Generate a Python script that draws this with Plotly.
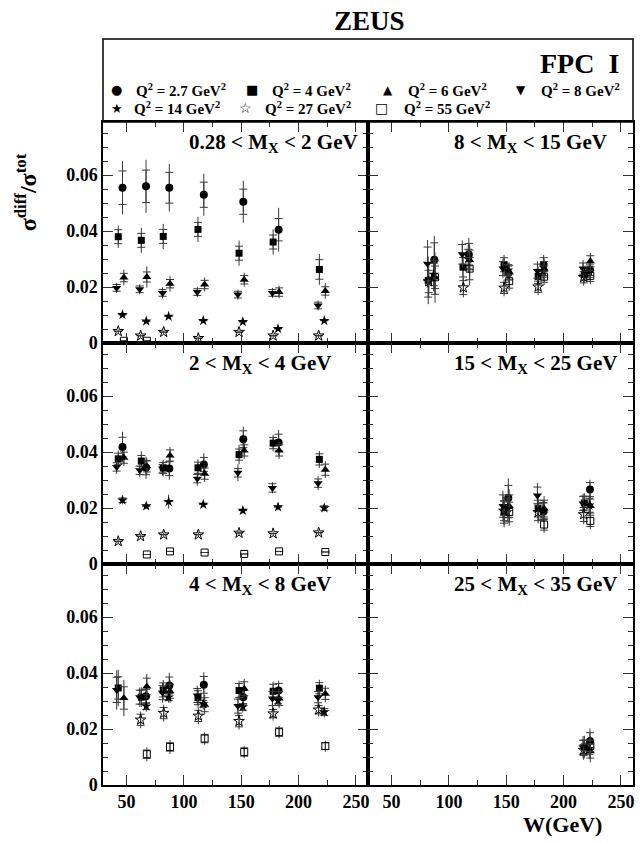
import plotly.graph_objects as go
from plotly.subplots import make_subplots

# ---------------- data ----------------
Q2_LABELS = ["2.7", "4", "6", "8", "14", "27", "55"]
SYMBOLS = ["circle", "square", "triangle-up", "triangle-down", "star", "star-open", "square-open"]
LEGEND_GLYPHS = ["●", "■", "▲", "▼", "★", "☆", "□"]
SIZES = [8, 7, 8, 8, 8, 8, 7]

# W positions (GeV) of each Q2 series (slightly staggered as in the original)
W_POS = [
    [46.5, 67.0, 87.3, 117.4, 151.8, 182.6, 223.0],   # 2.7
    [42.8, 62.9, 82.0, 112.3, 148.1, 177.8, 218.1],   # 4
    [47.7, 67.7, 87.9, 118.1, 152.6, 183.0, 223.3],   # 6
    [41.4, 61.5, 81.4, 111.7, 147.1, 177.2, 217.0],   # 8
    [46.5, 67.2, 86.7, 116.9, 151.4, 182.1, 222.4],   # 14
    [42.8, 62.3, 82.4, 112.6, 148.1, 177.8, 217.5],   # 27
    [47.7, 67.7, 87.9, 118.1, 152.6, 183.0, 223.3],   # 55
]

N = None
PANEL_TITLES = ["0.28 < M<sub>X</sub> < 2 GeV", "8 < M<sub>X</sub> < 15 GeV",
                "2 < M<sub>X</sub> < 4 GeV", "15 < M<sub>X</sub> < 25 GeV",
                "4 < M<sub>X</sub> < 8 GeV", "25 < M<sub>X</sub> < 35 GeV"]

# panel 1: 0.28 < MX < 2
Y_P1 = [
    [0.0555, 0.0560, 0.0555, 0.0530, 0.0505, 0.0405, N],
    [0.0380, 0.0367, 0.0381, 0.0406, 0.0321, 0.0361, 0.0263],
    [0.0234, 0.0236, 0.0212, 0.0209, 0.0226, 0.0182, 0.0186],
    [0.0197, 0.0192, 0.0179, 0.0182, 0.0173, 0.0179, 0.0134],
    [0.0101, 0.0078, 0.0095, 0.0080, 0.0076, 0.0051, 0.0080],
    [0.0042, 0.0026, 0.0039, 0.0017, 0.0039, 0.0026, 0.0026],
    [0.0008, 0.0008, N, N, N, N, N],
]
ET_P1 = [
    [0.0095, 0.0095, 0.0085, 0.0075, 0.0075, 0.0078, N],
    [0.0040, 0.0045, 0.0045, 0.0045, 0.0045, 0.0045, 0.0055],
    [0.0028, 0.0038, 0.0028, 0.0025, 0.0025, 0.0022, 0.0028],
    [0.0018, 0.0018, 0.0020, 0.0018, 0.0018, 0.0018, 0.0018],
    [0.0007, 0.0007, 0.0007, 0.0007, 0.0007, 0.0007, 0.0007],
    [0.0006, 0.0006, 0.0006, 0.0006, 0.0006, 0.0006, 0.0006],
    [0, 0, N, N, N, N, N],
]
ES_P1 = [
    [0.0060, 0.0058, 0.0055, 0.0045, 0.0045, 0.0040, N],
    [0.0025, 0.0025, 0.0025, 0.0025, 0.0025, 0.0025, 0.0035],
    [0.0015, 0.0018, 0.0015, 0.0015, 0.0015, 0.0015, 0.0015],
    [0.0012, 0.0012, 0.0012, 0.0012, 0.0012, 0.0012, 0.0012],
    [0, 0, 0, 0, 0, 0, 0],
    [0, 0, 0, 0, 0, 0, 0],
    [0, 0, N, N, N, N, N],
]

# panel 2: 8 < MX < 15
Y_P2 = [
    [N, N, 0.0298, 0.0316, 0.0250, 0.0280, 0.0262],
    [N, N, 0.0224, 0.0271, 0.0280, 0.0238, 0.0245],
    [N, N, 0.0234, 0.0297, 0.0253, 0.0266, 0.0292],
    [N, N, 0.0283, 0.0317, 0.0266, 0.0257, 0.0266],
    [N, N, 0.0245, 0.0300, 0.0260, 0.0255, 0.0255],
    [N, N, 0.0220, 0.0198, 0.0197, 0.0201, 0.0235],
    [N, N, 0.0235, 0.0266, 0.0221, 0.0237, 0.0240],
]
ET_P2 = [
    [N, N, 0.0085, 0.0060, 0.0035, 0.0035, 0.0030],
    [N, N, 0.0085, 0.0050, 0.0035, 0.0035, 0.0030],
    [N, N, 0.0090, 0.0055, 0.0035, 0.0035, 0.0030],
    [N, N, 0.0085, 0.0050, 0.0035, 0.0035, 0.0030],
    [N, N, 0.0060, 0.0050, 0.0030, 0.0030, 0.0030],
    [N, N, 0.0060, 0.0035, 0.0030, 0.0030, 0.0030],
    [N, N, 0.0060, 0.0060, 0.0035, 0.0030, 0.0030],
]
ES_P2 = [
    [N, N, 0.0060, 0.0040, 0.0025, 0.0025, 0.0020],
    [N, N, 0.0060, 0.0035, 0.0025, 0.0025, 0.0020],
    [N, N, 0.0060, 0.0035, 0.0025, 0.0025, 0.0020],
    [N, N, 0.0060, 0.0035, 0.0025, 0.0025, 0.0020],
    [N, N, 0.0040, 0.0035, 0.0020, 0.0020, 0.0020],
    [N, N, 0.0040, 0.0025, 0.0020, 0.0020, 0.0020],
    [N, N, 0.0040, 0.0040, 0.0025, 0.0020, 0.0020],
]

# panel 3: 2 < MX < 4
Y_P3 = [
    [0.0418, 0.0344, 0.0341, 0.0356, 0.0446, 0.0434, N],
    [0.0376, 0.0368, 0.0343, 0.0344, 0.0391, 0.0432, 0.0374],
    [0.0380, 0.0349, 0.0388, 0.0323, 0.0406, 0.0406, 0.0337],
    [0.0347, 0.0335, 0.0341, 0.0305, 0.0326, 0.0272, 0.0289],
    [0.0228, 0.0207, 0.0223, 0.0213, 0.0191, 0.0204, 0.0200],
    [0.0081, 0.0099, 0.0105, 0.0105, 0.0111, 0.0109, 0.0112],
    [N, 0.0034, 0.0045, 0.0041, 0.0036, 0.0045, 0.0043],
]
ET_P3 = [
    [0.0055, 0.0040, 0.0040, 0.0040, 0.0045, 0.0045, N],
    [0.0030, 0.0035, 0.0030, 0.0030, 0.0035, 0.0030, 0.0030],
    [0.0030, 0.0030, 0.0030, 0.0030, 0.0030, 0.0030, 0.0030],
    [0.0025, 0.0025, 0.0025, 0.0025, 0.0030, 0.0020, 0.0025],
    [0.0015, 0.0010, 0.0025, 0.0010, 0.0010, 0.0012, 0.0012],
    [0.0008, 0.0008, 0.0008, 0.0008, 0.0008, 0.0008, 0.0008],
    [N, 0, 0, 0, 0, 0, 0],
]
ES_P3 = [
    [0.0035, 0.0025, 0.0025, 0.0025, 0.0030, 0.0030, N],
    [0.0020, 0.0020, 0.0020, 0.0020, 0.0020, 0.0020, 0.0020],
    [0.0020, 0.0020, 0.0020, 0.0020, 0.0020, 0.0020, 0.0020],
    [0.0015, 0.0015, 0.0015, 0.0015, 0.0015, 0.0015, 0.0015],
    [0.0008, 0, 0, 0, 0, 0, 0.0008],
    [0, 0, 0, 0, 0, 0, 0],
    [N, 0, 0, 0, 0, 0, 0],
]

# panel 4: 15 < MX < 25
Y_P4 = [
    [N, N, N, N, 0.0236, 0.0188, 0.0266],
    [N, N, N, N, 0.0186, 0.0198, 0.0218],
    [N, N, N, N, 0.0207, 0.0198, 0.0207],
    [N, N, N, N, 0.0207, 0.0245, 0.0216],
    [N, N, N, N, 0.0200, 0.0190, 0.0210],
    [N, N, N, N, 0.0190, 0.0185, 0.0177],
    [N, N, N, N, 0.0186, 0.0141, 0.0154],
]
ET_P4 = [
    [N, N, N, N, 0.0070, 0.0040, 0.0035],
    [N, N, N, N, 0.0055, 0.0045, 0.0035],
    [N, N, N, N, 0.0060, 0.0045, 0.0040],
    [N, N, N, N, 0.0055, 0.0045, 0.0035],
    [N, N, N, N, 0.0050, 0.0040, 0.0035],
    [N, N, N, N, 0.0050, 0.0040, 0.0035],
    [N, N, N, N, 0.0050, 0.0030, 0.0030],
]
ES_P4 = [
    [N, N, N, N, 0.0045, 0.0030, 0.0025],
    [N, N, N, N, 0.0040, 0.0030, 0.0025],
    [N, N, N, N, 0.0040, 0.0030, 0.0025],
    [N, N, N, N, 0.0040, 0.0030, 0.0025],
    [N, N, N, N, 0.0035, 0.0030, 0.0025],
    [N, N, N, N, 0.0035, 0.0030, 0.0025],
    [N, N, N, N, 0.0035, 0.0020, 0.0020],
]

# panel 5: 4 < MX < 8
Y_P5 = [
    [N, 0.0317, 0.0356, 0.0358, 0.0314, 0.0338, N],
    [0.0347, 0.0314, 0.0340, 0.0312, 0.0338, 0.0335, 0.0346],
    [0.0311, 0.0352, 0.0335, 0.0287, 0.0344, 0.0309, 0.0326],
    [0.0340, 0.0314, 0.0330, 0.0320, 0.0282, 0.0309, 0.0314],
    [N, 0.0282, 0.0314, 0.0290, 0.0279, 0.0302, 0.0261],
    [N, 0.0233, 0.0257, 0.0247, 0.0228, 0.0255, 0.0269],
    [N, 0.0110, 0.0136, 0.0166, 0.0118, 0.0189, 0.0139],
]
ET_P5 = [
    [N, 0.0040, 0.0045, 0.0045, 0.0035, 0.0035, N],
    [0.0065, 0.0035, 0.0035, 0.0035, 0.0035, 0.0035, 0.0030],
    [0.0065, 0.0045, 0.0040, 0.0035, 0.0035, 0.0035, 0.0030],
    [0.0070, 0.0035, 0.0035, 0.0035, 0.0035, 0.0035, 0.0030],
    [N, 0.0020, 0.0020, 0.0020, 0.0020, 0.0020, 0.0020],
    [N, 0.0030, 0.0030, 0.0030, 0.0030, 0.0025, 0.0025],
    [N, 0.0025, 0.0025, 0.0022, 0.0022, 0.0022, 0.0020],
]
ES_P5 = [
    [N, 0.0025, 0.0030, 0.0030, 0.0025, 0.0025, N],
    [0.0040, 0.0025, 0.0025, 0.0025, 0.0025, 0.0025, 0.0020],
    [0.0040, 0.0030, 0.0025, 0.0025, 0.0025, 0.0025, 0.0020],
    [0.0045, 0.0025, 0.0025, 0.0025, 0.0025, 0.0025, 0.0020],
    [N, 0.0012, 0.0012, 0.0012, 0.0012, 0.0012, 0.0012],
    [N, 0.0020, 0.0020, 0.0020, 0.0020, 0.0015, 0.0015],
    [N, 0.0015, 0.0015, 0.0015, 0.0015, 0.0015, 0.0012],
]

# panel 6: 25 < MX < 35
Y_P6 = [
    [N, N, N, N, N, N, 0.0157],
    [N, N, N, N, N, N, 0.0136],
    [N, N, N, N, N, N, 0.0121],
    [N, N, N, N, N, N, 0.0135],
    [N, N, N, N, N, N, 0.0130],
    [N, N, N, N, N, N, 0.0125],
    [N, N, N, N, N, N, 0.0140],
]
ET_P6 = [
    [N, N, N, N, N, N, 0.0045],
    [N, N, N, N, N, N, 0.0040],
    [N, N, N, N, N, N, 0.0040],
    [N, N, N, N, N, N, 0.0040],
    [N, N, N, N, N, N, 0.0035],
    [N, N, N, N, N, N, 0.0035],
    [N, N, N, N, N, N, 0.0035],
]
ES_P6 = [
    [N, N, N, N, N, N, 0.0030],
    [N, N, N, N, N, N, 0.0025],
    [N, N, N, N, N, N, 0.0025],
    [N, N, N, N, N, N, 0.0025],
    [N, N, N, N, N, N, 0.0020],
    [N, N, N, N, N, N, 0.0020],
    [N, N, N, N, N, N, 0.0020],
]

PANELS = [  # (row, col, Y, total err, stat err)
    (1, 1, Y_P1, ET_P1, ES_P1),
    (1, 2, Y_P2, ET_P2, ES_P2),
    (2, 1, Y_P3, ET_P3, ES_P3),
    (2, 2, Y_P4, ET_P4, ES_P4),
    (3, 1, Y_P5, ET_P5, ES_P5),
    (3, 2, Y_P6, ET_P6, ES_P6),
]

# ---------------- figure ----------------
OFF = 8                      # page body margin of the html page
W_PX, H_PX = 628, 829        # figure fits inside the 644x845 window with the body margin
# plot area in window pixels: x 103..635, y 122..785
ML, MT = 103 - OFF, 122 - OFF
MR = W_PX - (635 - OFF)
MB = H_PX - (785 - OFF)
PW, PH = W_PX - ML - MR, H_PX - MT - MB
SERIF = "Liberation Serif"
ERRC = "#3a3a3a"


def px2x(px):  # window pixel -> paper x
    return (px - OFF - ML) / PW


def px2y(py):  # window pixel -> paper y
    return (H_PX - MB - (py - OFF)) / PH


fig = make_subplots(rows=3, cols=2, horizontal_spacing=0, vertical_spacing=0)

for pi, (r, c, Ys, ETs, ESs) in enumerate(PANELS):
    for si in range(7):
        xs, ys, et, es = [], [], [], []
        for k in range(7):
            if Ys[si][k] is not None:
                xs.append(W_POS[si][k])
                ys.append(Ys[si][k])
                et.append(ETs[si][k] or 0)
                es.append(ESs[si][k] or 0)
        if not xs:
            continue
        # total error: plain vertical line
        fig.add_trace(go.Scatter(
            x=xs, y=ys, mode="markers", showlegend=False, hoverinfo="skip",
            marker=dict(size=1, color="rgba(0,0,0,0)"),
            error_y=dict(type="data", array=et, visible=True, thickness=1, width=0, color=ERRC),
        ), row=r, col=c)
        openm = SYMBOLS[si].endswith("open")
        fig.add_trace(go.Scatter(
            x=xs, y=ys, mode="markers", showlegend=False,
            name="Q2 = %s GeV2" % Q2_LABELS[si],
            marker=dict(symbol=SYMBOLS[si], size=SIZES[si], color="black",
                        line=dict(width=1 if openm else 0, color="black")),
            error_y=dict(type="data", array=es, visible=True, thickness=1, width=4, color=ERRC),
        ), row=r, col=c)

tickfont = dict(family=SERIF, size=18, color="black", weight="bold")
for r in (1, 2, 3):
    for c in (1, 2):
        fig.update_xaxes(
            row=r, col=c, range=[29.5, 260.5], tick0=0, dtick=50,
            ticks="inside", ticklen=10, tickwidth=1, tickcolor="#333",
            minor=dict(ticks="inside", ticklen=5, dtick=25, tick0=0, tickcolor="#333", tickwidth=1),
            showline=True, linecolor="black", linewidth=1.5, mirror="allticks",
            showgrid=False, zeroline=False, showticklabels=(r == 3), tickfont=tickfont,
            domain=[0, 0.5] if c == 1 else [0.5, 1],
        )
        fig.update_yaxes(
            row=r, col=c, range=[0, 0.079],
            tickvals=[0, 0.02, 0.04, 0.06], ticktext=["0", "0.02", "0.04", "0.06"],
            ticks="inside", ticklen=10, tickwidth=1, tickcolor="#333",
            minor=dict(ticks="inside", ticklen=5, dtick=0.005, tick0=0, tickcolor="#333", tickwidth=1),
            showline=True, linecolor="black", linewidth=1.5, mirror="allticks",
            showgrid=False, zeroline=False, showticklabels=(c == 1), tickfont=tickfont,
            domain=[(3 - r) / 3, (4 - r) / 3],
        )

annotations = []
for pi, (r, c, *_rest) in enumerate(PANELS):
    x0 = 0 if c == 1 else 0.5
    ytop = (4 - r) / 3
    annotations.append(dict(
        xref="paper", yref="paper", x=x0 + 84 / PW, y=ytop - 6 / PH,
        xanchor="left", yanchor="top", showarrow=False,
        text=PANEL_TITLES[pi],
        font=dict(family=SERIF, size=21, color="black", weight="bold"),
    ))

# legend (inside the header box): glyph + label, 4 entries on the first row, 3 on the second
LEG_GLYPH_X = [117, 253, 389, 523, 117, 246, 383]
LEG_TEXT_X = [134, 271, 407, 541, 132, 264, 403]
LEG_Y = [90, 90, 90, 90, 108, 108, 108]
LEG_GLYPH_SIZE = [13, 13, 12, 12, 13, 14, 14]
for si in range(7):
    annotations.append(dict(
        xref="paper", yref="paper", x=px2x(LEG_GLYPH_X[si]), y=px2y(LEG_Y[si]),
        xanchor="center", yanchor="middle", showarrow=False, text=LEGEND_GLYPHS[si],
        font=dict(family="DejaVu Sans", size=LEG_GLYPH_SIZE[si], color="black")))
    annotations.append(dict(
        xref="paper", yref="paper", x=px2x(LEG_TEXT_X[si]), y=px2y(LEG_Y[si]),
        xanchor="left", yanchor="middle", showarrow=False,
        text="Q<sup>2</sup> = %s GeV<sup>2</sup>" % Q2_LABELS[si],
        font=dict(family=SERIF, size=15, color="black", weight="bold")))

annotations += [
    dict(xref="paper", yref="paper", x=px2x(371), y=px2y(21), text="ZEUS", showarrow=False,
         xanchor="center", yanchor="middle",
         font=dict(family=SERIF, size=27, color="black", weight="bold")),
    dict(xref="paper", yref="paper", x=px2x(623), y=px2y(63), text="FPC  I", showarrow=False,
         xanchor="right", yanchor="middle",
         font=dict(family=SERIF, size=28, color="black", weight="bold")),
    dict(xref="paper", yref="paper", x=px2x(564), y=px2y(824), text="W(GeV)", showarrow=False,
         xanchor="center", yanchor="middle",
         font=dict(family=SERIF, size=22, color="black", weight="bold")),
    dict(xref="paper", yref="paper", x=px2x(26), y=px2y(192),
         text="σ<sup>diff</sup>/σ<sup>tot</sup>", showarrow=False, textangle=-90,
         xanchor="center", yanchor="middle",
         font=dict(family=SERIF, size=24, color="black", weight="bold")),
]

fig.update_layout(
    width=W_PX, height=H_PX,
    margin=dict(l=ML, r=MR, t=MT, b=MB),
    paper_bgcolor="white", plot_bgcolor="white",
    showlegend=False,
    annotations=annotations,
    shapes=[dict(type="rect", xref="paper", yref="paper", x0=0, x1=1, y0=1, y1=px2y(39),
                 line=dict(color="black", width=1.5))],
)

fig.write_html("out.html")
